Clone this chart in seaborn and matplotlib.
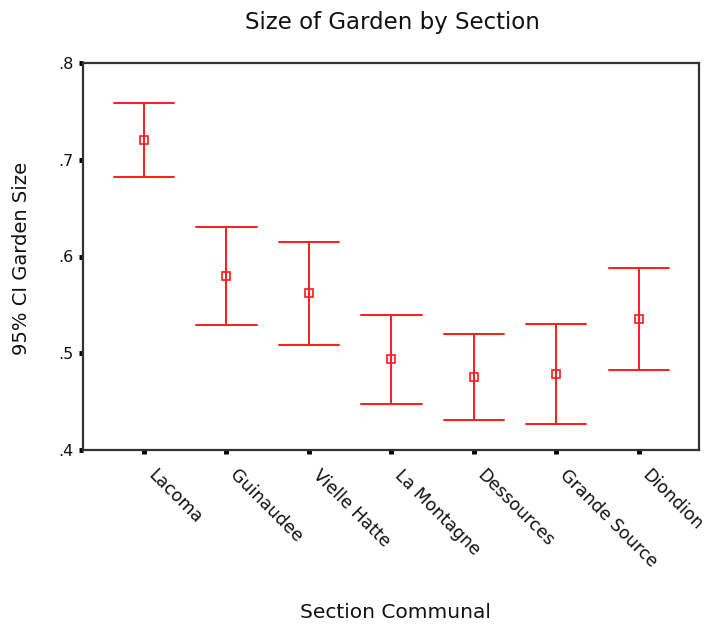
import numpy as np
import pandas as pd
import matplotlib
matplotlib.use("Agg")
import matplotlib.pyplot as plt
import matplotlib.transforms as mtransforms
import seaborn as sns

sections = ["Lacoma", "Guinaudee", "Vielle Hatte", "La Montagne",
            "Dessources", "Grande Source", "Diondion"]
mean_size = [0.720, 0.580, 0.562, 0.494, 0.475, 0.479, 0.535]
ci_lower = [0.682, 0.529, 0.509, 0.448, 0.431, 0.427, 0.483]
ci_upper = [0.759, 0.630, 0.615, 0.540, 0.520, 0.530, 0.588]
y_ticks = [0.4, 0.5, 0.6, 0.7, 0.8]
y_tick_labels = [".4", ".5", ".6", ".7", ".8"]

# long table: each section carries its lower bound, mean and upper bound;
# the median marks the mean and the full range spans the interval
df = pd.DataFrame({
    "section": np.repeat(sections, 3),
    "value": np.ravel(np.column_stack([ci_lower, mean_size, ci_upper])),
})

sns.set_theme(style="white")
plt.rcParams["font.family"] = ["DejaVu Sans"]

fig = plt.figure(figsize=(7.08, 6.26), dpi=100)
ax = fig.add_axes([83 / 708, 1 - 450 / 626, (699 - 83) / 708, (450 - 63) / 626])

red = "#ff1a1a"
sns.pointplot(data=df, x="section", y="value", order=sections,
              estimator="median", errorbar=("pi", 100),
              color=red, linestyles="none", markers="s",
              capsize=0.73, err_kws={"linewidth": 1.4},
              markersize=5.5, markerfacecolor="white",
              markeredgewidth=1.2, ax=ax)

ax.set_xlim(-0.74, 6.73)
ax.set_ylim(0.4, 0.8)

ax.set_xticks(range(len(sections)))
ax.set_xticklabels(sections, rotation=-45, ha="left", va="bottom",
                   rotation_mode="anchor", fontsize=12.5, color="#111111")
shift = mtransforms.ScaledTranslation(3 / 100, 0, fig.dpi_scale_trans)
for lbl in ax.get_xticklabels():
    lbl.set_transform(lbl.get_transform() + shift)

ax.set_yticks(y_ticks)
ax.set_yticklabels(y_tick_labels, fontsize=11.5, color="#111111")

ax.tick_params(axis="both", which="major", direction="out", length=3,
               width=3.5, color="black", bottom=True, left=True)
ax.tick_params(axis="y", pad=4)
ax.tick_params(axis="x", pad=18)

for side, sp in ax.spines.items():
    sp.set_visible(True)
    sp.set_color("#333333")
    sp.set_linewidth(1.6)

ax.set_xlabel("Section Communal", fontsize=14.5, va="center", color="#111111")
ax.xaxis.set_label_coords((395 - 83) / 616, -(612 - 450) / 387)
ax.set_ylabel("95% CI Garden Size", fontsize=14, va="center", color="#111111")
ax.yaxis.set_label_coords(-(83 - 21.5) / 616, (450 - 258) / 387)
fig.text(392 / 708, 1 - 23 / 626, "Size of Garden by Section",
         ha="center", va="center", fontsize=16.5, color="#111111")

fig.savefig("out.png", dpi=100, facecolor="white")
